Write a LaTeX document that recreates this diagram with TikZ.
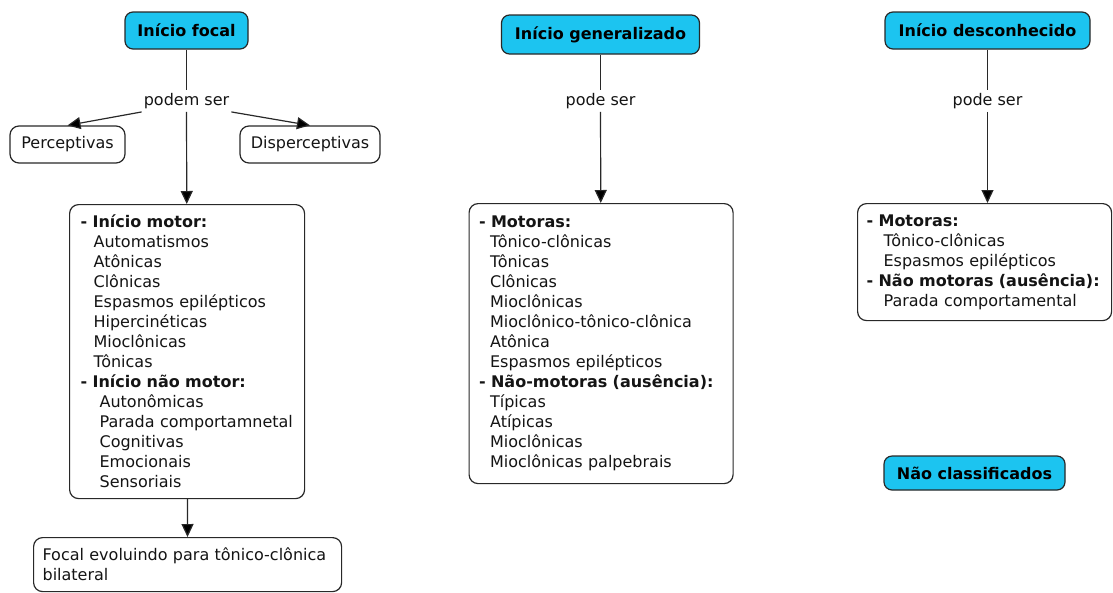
\documentclass[tikz,border=0pt]{standalone}
\usepackage{fontspec}
\setmainfont{DejaVu Sans}
\usetikzlibrary{arrows.meta}
\definecolor{cmapcyan}{RGB}{28,196,240}
\definecolor{edge}{RGB}{40,40,40}
\definecolor{txt}{RGB}{20,20,20}
\begin{document}
\begin{tikzpicture}[x=1pt,y=-1pt,
  font=\fontsize{16}{20}\selectfont, text=txt,
  topic/.style={draw=edge, line width=1.2pt, fill=cmapcyan, rounded corners=8pt,
    font=\fontsize{16}{20}\selectfont\bfseries, text=black, inner sep=0pt},
  concept/.style={draw=edge, line width=1.2pt, fill=white, rounded corners=9pt, inner sep=0pt},
  listbox/.style={concept, anchor=north west, align=left, inner ysep=0pt},
  linklabel/.style={fill=white, inner xsep=2pt, inner ysep=3pt},
  link/.style={draw=edge, line width=1.2pt},
  arrowlink/.style={link, -{Triangle[length=13pt,width=12pt,fill=black]}},
]
\useasboundingbox (0,0) rectangle (1113,592);

% ---- focal onset column ----
\node[topic, minimum width=123pt, minimum height=37pt] (focal) at (186.5,30.5) {Início focal};
\node[linklabel] (podem) at (186.5,101) {podem ser};
\node[concept, minimum width=115pt, minimum height=37pt] (perc) at (67.5,144.5) {Perceptivas};
\node[concept, minimum width=140pt, minimum height=37pt] (disp) at (310,144.5) {Disperceptivas};
\node[listbox, text width=213pt, inner xsep=11pt, minimum height=294pt] (motor) at (69,204) {%
\textbf{- Início motor:}\\
\hspace*{13pt}Automatismos\\
\hspace*{13pt}Atônicas\\
\hspace*{13pt}Clônicas\\
\hspace*{13pt}Espasmos epilépticos\\
\hspace*{13pt}Hipercinéticas\\
\hspace*{13pt}Mioclônicas\\
\hspace*{13pt}Tônicas\\
\textbf{- Início não motor:}\\
\hspace*{19pt}Autonômicas\\
\hspace*{19pt}Parada comportamnetal\\
\hspace*{19pt}Cognitivas\\
\hspace*{19pt}Emocionais\\
\hspace*{19pt}Sensoriais};
\node[concept, anchor=north west, align=left, text width=290pt, inner xsep=9pt,
  minimum height=54pt] (evol) at (33,537) {Focal evoluindo para tônico-clônica\\bilateral};

\draw[link] (focal) -- (podem);
\draw[arrowlink] (podem) -- (motor);
\draw[arrowlink] (podem.south west) -- (perc.north);
\draw[arrowlink] (podem.south east) -- (disp.north);
\draw[arrowlink] (motor) -- (evol);

% ---- generalized onset column ----
\node[topic, minimum width=198pt, minimum height=39pt] (gen) at (600.5,34.5) {Início generalizado};
\node[linklabel] (genlab) at (600.5,101) {pode ser};
\node[listbox, text width=244pt, inner xsep=10pt, minimum height=280pt] (genbox) at (468.5,203) {%
\textbf{- Motoras:}\\
\hspace*{11pt}Tônico-clônicas\\
\hspace*{11pt}Tônicas\\
\hspace*{11pt}Clônicas\\
\hspace*{11pt}Mioclônicas\\
\hspace*{11pt}Mioclônico-tônico-clônica\\
\hspace*{11pt}Atônica\\
\hspace*{11pt}Espasmos epilépticos\\
\textbf{- Não-motoras (ausência):}\\
\hspace*{11pt}Típicas\\
\hspace*{11pt}Atípicas\\
\hspace*{11pt}Mioclônicas\\
\hspace*{11pt}Mioclônicas palpebrais};

\draw[link] (gen) -- (genlab);
\draw[arrowlink] (genlab) -- (genbox);

% ---- unknown onset column ----
\node[topic, minimum width=205pt, minimum height=37pt] (desc) at (987.5,30.5) {Início desconhecido};
\node[linklabel] (desclab) at (987.5,101) {pode ser};
\node[listbox, text width=236pt, inner xsep=9pt, minimum height=117pt] (descbox) at (857,203) {%
\mbox{\textbf{- Motoras:}}\\
\hspace*{17pt}Tônico-clônicas\\
\hspace*{17pt}Espasmos epilépticos\\
\mbox{\textbf{- Não motoras (ausência):}}\\
\hspace*{17pt}Parada comportamental};

\draw[link] (desc) -- (desclab);
\draw[arrowlink] (desclab) -- (descbox.north -| desclab);

% ---- unclassified ----
\node[topic, minimum width=181pt, minimum height=34pt] (naoclass) at (974.5,473) {Não classificados};
\end{tikzpicture}
\end{document}
